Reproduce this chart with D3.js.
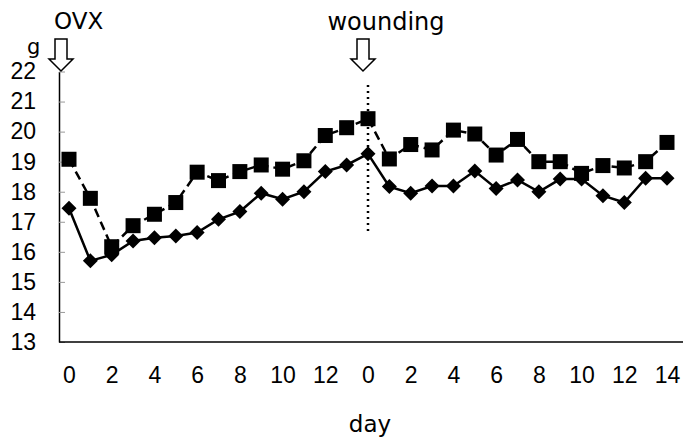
<!DOCTYPE html>
<html>
<head>
<meta charset="utf-8">
<script src="https://cdn.jsdelivr.net/npm/d3@7"></script>
<style>
  body { margin: 0; background: #fff; }
  svg { display: block; }
  .tick text { font-family: "Liberation Sans", Arial, sans-serif; font-size: 23px; fill: #000; }
  .lbl { font-family: "DejaVu Sans", sans-serif; font-size: 23px; fill: #000; }
</style>
</head>
<body>
<script>
// day index 0..28 : ovx days 0-13, then wounding days 0-14
var days = d3.range(29);
var tickIdx = [0, 2, 4, 6, 8, 10, 12, 14, 16, 18, 20, 22, 24, 26, 28];
var tickLabels = ["0", "2", "4", "6", "8", "10", "12", "0", "2", "4", "6", "8", "10", "12", "14"];
var yTicks = [13, 14, 15, 16, 17, 18, 19, 20, 21, 22];

// squares, dashed line
var squareVals = [19.08, 17.78, 16.17, 16.87, 17.25, 17.64, 18.65, 18.37, 18.67, 18.89,
  18.75, 19.03, 19.87, 20.13, 20.43, 19.09, 19.57, 19.39, 20.05, 19.92,
  19.22, 19.74, 19.0, 19.0, 18.61, 18.87, 18.79, 19.0, 19.64];
// diamonds, solid line
var diamondVals = [17.45, 15.7, 15.9, 16.36, 16.47, 16.53, 16.64, 17.08, 17.34, 17.95,
  17.75, 18.0, 18.67, 18.89, 19.26, 18.17, 17.95, 18.19, 18.19, 18.69,
  18.11, 18.39, 18.0, 18.42, 18.42, 17.87, 17.64, 18.45, 18.45];

var width = 687, height = 442;
var axisX = 59;

var svg = d3.select('body').append('svg')
  .attr('width', width)
  .attr('height', height);

var x = d3.scaleLinear().domain([0, 28]).range([69, 667]);
var y = d3.scaleLinear().domain([13, 22]).range([342, 71.5]);

// y axis
var yAxis = svg.append('g')
  .attr('transform', 'translate(' + axisX + ',0)')
  .call(d3.axisLeft(y).tickValues(yTicks).tickSizeInner(-6).tickSizeOuter(0).tickPadding(23));
yAxis.select('.domain').attr('stroke', '#000').attr('stroke-width', 1.5);
yAxis.selectAll('.tick line').attr('stroke', '#999');

// x axis
var xAxis = svg.append('g')
  .attr('transform', 'translate(0,' + y(13) + ')')
  .call(d3.axisBottom(x).tickValues(tickIdx)
    .tickFormat(function(d, i) { return tickLabels[i]; })
    .tickSize(0).tickPadding(25));
xAxis.select('.domain').attr('d', 'M' + axisX + ',0H683').attr('stroke', '#000').attr('stroke-width', 1.5);

// dotted wounding line
svg.append('line')
  .attr('x1', x(14)).attr('x2', x(14))
  .attr('y1', 85).attr('y2', 231)
  .attr('stroke', '#000').attr('stroke-width', 2.5)
  .attr('stroke-dasharray', '2,4');

var line = d3.line()
  .x(function(d, i) { return x(i); })
  .y(function(d) { return y(d); });

svg.append('path')
  .datum(squareVals)
  .attr('d', line)
  .attr('fill', 'none')
  .attr('stroke', '#000')
  .attr('stroke-width', 2.5)
  .attr('stroke-dasharray', '9,5');

svg.append('path')
  .datum(diamondVals)
  .attr('d', line)
  .attr('fill', 'none')
  .attr('stroke', '#000')
  .attr('stroke-width', 2.5);

svg.selectAll('rect.sq')
  .data(squareVals)
  .enter().append('rect')
  .attr('class', 'sq')
  .attr('x', function(d, i) { return x(i) - 7.5; })
  .attr('y', function(d) { return y(d) - 7.5; })
  .attr('width', 15)
  .attr('height', 15)
  .attr('fill', '#000');

// diamond marker, half-diagonal 7.5
var diamond = 'M0,-7.5L7.5,0L0,7.5L-7.5,0Z';
svg.selectAll('path.dm')
  .data(diamondVals)
  .enter().append('path')
  .attr('class', 'dm')
  .attr('d', diamond)
  .attr('transform', function(d, i) { return 'translate(' + x(i) + ',' + y(d) + ')'; })
  .attr('fill', '#000');

// hollow arrows
var arrow = function(cx) {
  var top = 39, neck = 59, tip = 71;
  var pts = [[cx - 6, top], [cx + 6, top], [cx + 6, neck], [cx + 12, neck], [cx, tip],
    [cx - 12, neck], [cx - 6, neck]];
  svg.append('path')
    .attr('d', 'M' + pts.join('L') + 'Z')
    .attr('fill', '#fff')
    .attr('stroke', '#000')
    .attr('stroke-width', 1.5);
};
arrow(61);
arrow(363);

svg.append('text').attr('class', 'lbl').attr('x', 54).attr('y', 29).text('OVX');
svg.append('text').attr('class', 'lbl').attr('x', 386).attr('y', 30)
  .attr('text-anchor', 'middle').style('font-size', '24px').text('wounding');
svg.append('text').attr('class', 'lbl').attr('x', 27).attr('y', 54).style('font-size', '21px').text('g');
svg.append('text').attr('class', 'lbl').attr('x', 370).attr('y', 432)
  .attr('text-anchor', 'middle').text('day');
</script>
</body>
</html>
